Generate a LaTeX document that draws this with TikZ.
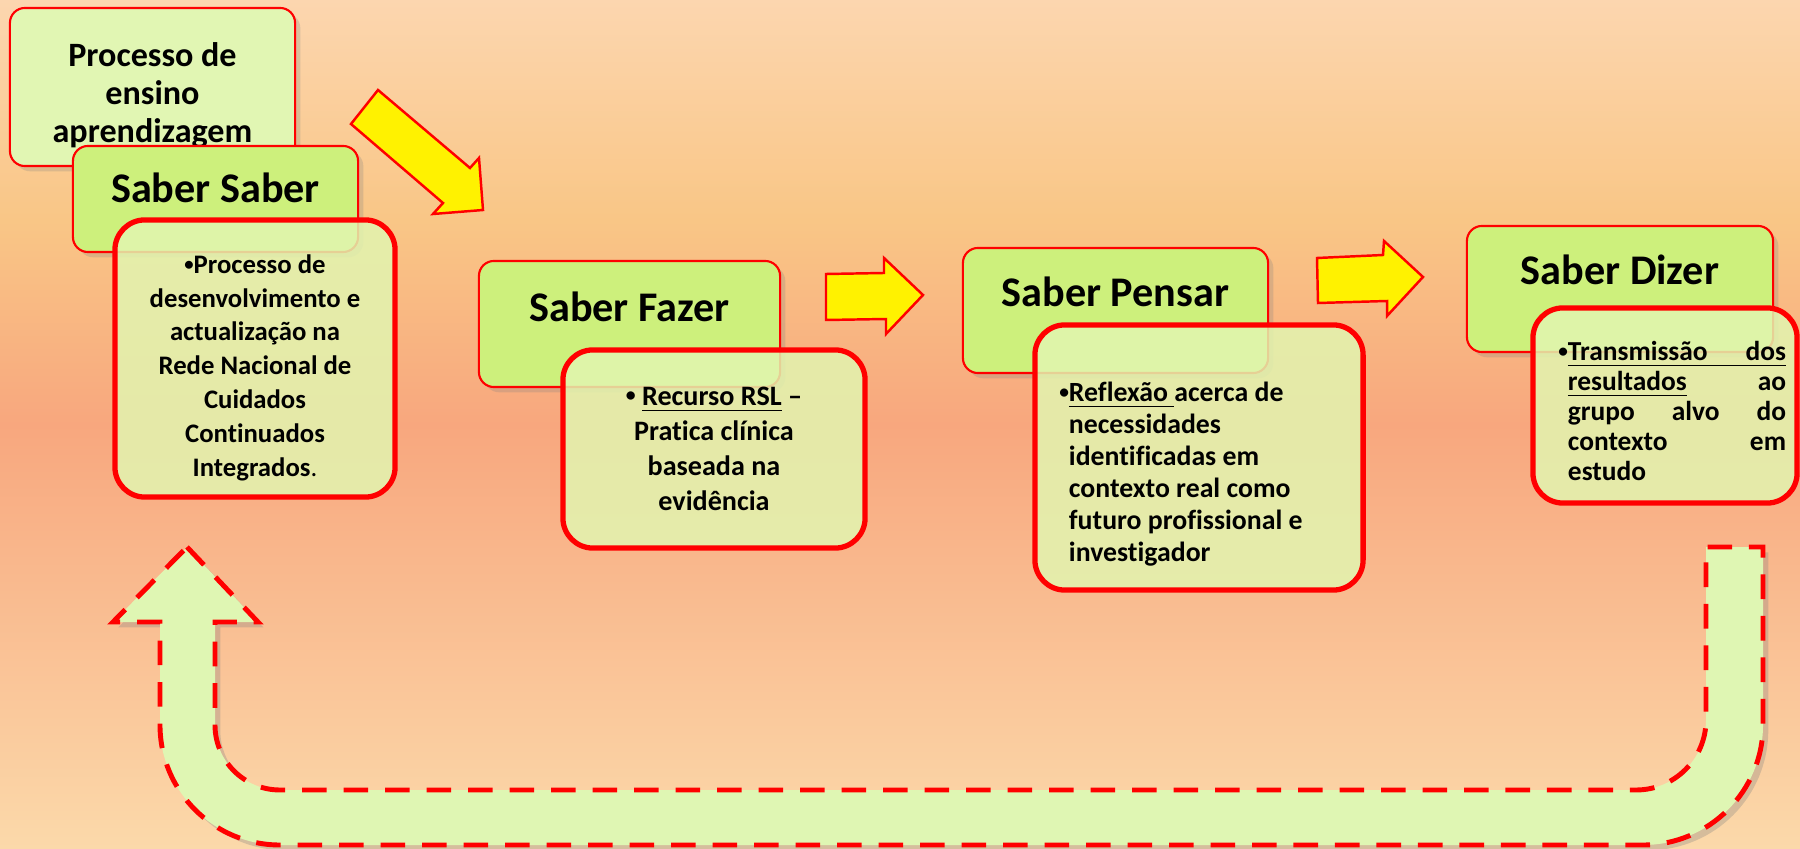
\documentclass[tikz,border=0pt]{standalone}
\usepackage{fontspec}
\setmainfont{Carlito}[RawFeature=-liga]
\usetikzlibrary{shadows}

\definecolor{titlegreen}{HTML}{CDF07C}
\definecolor{procgreen}{HTML}{E1F6B3}
\definecolor{detailgreen}{HTML}{E2F5B0}
\definecolor{loopgreen}{HTML}{DFF6B3}
\definecolor{bgtop}{HTML}{FCD6AF}
\definecolor{bgup}{HTML}{F9C686}
\definecolor{bgmid}{HTML}{F8A77E}
\definecolor{bgbot}{HTML}{FBD9AA}
\pgfdeclareverticalshading{bgshade}{100bp}{color(0bp)=(bgbot); color(25bp)=(bgbot); color(50bp)=(bgmid); color(62bp)=(bgup); color(75bp)=(bgtop); color(100bp)=(bgtop)}

\tikzset{
  titlebox/.style={draw=red, line width=.6pt, fill=titlegreen, rounded corners=.15cm,
    inner sep=0pt, font=\fontsize{12}{14}\selectfont\bfseries,
    drop shadow={opacity=.25, shadow xshift=1.5pt, shadow yshift=-1.5pt}},
  detailbox/.style={draw=red, line width=1.5pt, fill=detailgreen, fill opacity=.85, text opacity=1,
    rounded corners=.3cm, inner sep=0pt, align=center},
  yellowarrow/.style={draw=red, line width=.7pt, fill=yellow, line join=miter},
  loop/.style={draw=red, line width=1.4pt, dash pattern=on 7pt off 4.8pt, fill=loopgreen,
    drop shadow={opacity=.3, shadow xshift=1.5pt, shadow yshift=-1.5pt}}
}
\newcommand{\bul}{\raisebox{.12em}{\scalebox{.7}{•}}}
\newcommand{\dzline}[1]{\par\noindent\hbox to\linewidth{\hskip.24cm #1}\par}

\begin{document}
\begin{tikzpicture}[x=0.01cm, y=-0.01cm]
\useasboundingbox (0,0) rectangle (1800,849);
\shade[shading=bgshade] (0,0) rectangle (1800,849);

% feedback loop
\path[loop] (187,547) -- (258,622) -- (215,622) -- (215,725)
  arc[start angle=180, end angle=90, radius=65] -- (1636,790)
  arc[start angle=90, end angle=0, radius=70] -- (1706,547) -- (1763,547) -- (1763,725)
  arc[start angle=0, end angle=90, radius=120] -- (280,845)
  arc[start angle=90, end angle=180, radius=120] -- (160,622) -- (113,622) -- cycle;

% boxes
\node[titlebox, fill=procgreen, minimum width=2.85cm, minimum height=1.58cm, align=center,
  font=\fontsize{9.7}{10.8}\selectfont\bfseries] (proc) at (152.5,87) {\rule{0pt}{.4cm}Processo de\\ensino\\aprendizagem};
\node[titlebox, minimum width=2.85cm, text height=.57cm, text depth=.49cm] (saber) at (215.5,199) {Saber Saber};
\node[detailbox, minimum width=2.8cm, minimum height=2.77cm, font=\fontsize{7.6}{9.6}\selectfont\bfseries]
  (saberTxt) at (255,358.5) {\rule{0pt}{.37cm}\bul Processo de\\desenvolvimento e\\actualização na\\Rede Nacional de\\Cuidados\\Continuados\\Integrados{\mdseries.}};

\node[titlebox, minimum width=3.01cm, text height=.61cm, text depth=.65cm] (fazer) at (629.5,324) {Saber Fazer};
\node[detailbox, minimum width=3.02cm, minimum height=1.98cm, font=\fontsize{8}{10}\selectfont\bfseries]
  (fazerTxt) at (714,449) {\bul{} \underline{Recurso RSL} –\\Pratica clínica\\baseada na\\evidência};

\node[titlebox, minimum width=3.05cm, text height=.59cm, text depth=.66cm] (pensar) at (1115.5,310.5) {Saber Pensar};
\node[detailbox, minimum width=3.28cm, minimum height=2.65cm, text width=2.6cm, align=flush left,
  font=\fontsize{7.9}{9.1}\selectfont\bfseries]
  (pensarTxt) at (1199,457.5) {\rule{0pt}{.53cm}\llap{\bul}\underline{Reflexão }acerca de\\necessidades\\identificadas em\\contexto real como\\futuro profissional e\\investigador};

\node[titlebox, minimum width=3.06cm, text height=.59cm, text depth=.67cm] (dizer) at (1620,289) {Saber Dizer};
\node[detailbox, minimum width=2.64cm, minimum height=1.95cm, text width=2.42cm, align=flush left,
  font=\fontsize{7.8}{8.5}\selectfont\bfseries] (dizerTxt) at (1665,405.5) {%
  \dzline{\llap{\bul}\underline{\hbox to 2.18cm{Transmissão\hfill dos}}\hss}%
  \dzline{\underline{resultados}\hfill ao}%
  \dzline{grupo\hfill alvo\hfill do}%
  \dzline{contexto\hfill em}%
  \dzline{estudo\hfill}};

% yellow arrows
\filldraw[yellowarrow] (378,90) -- (470,168) -- (479,158) -- (483,210) -- (433,214) -- (443,203) -- (351,124) -- cycle;
\filldraw[yellowarrow] (826,274) -- (884,273) -- (884,258) -- (923,295) -- (886,334) -- (886,319) -- (826,320) -- cycle;
\filldraw[yellowarrow] (1317,258) -- (1383,255) -- (1384,241) -- (1423,277) -- (1387,316) -- (1387,301) -- (1318,303) -- cycle;

\end{tikzpicture}
\end{document}
